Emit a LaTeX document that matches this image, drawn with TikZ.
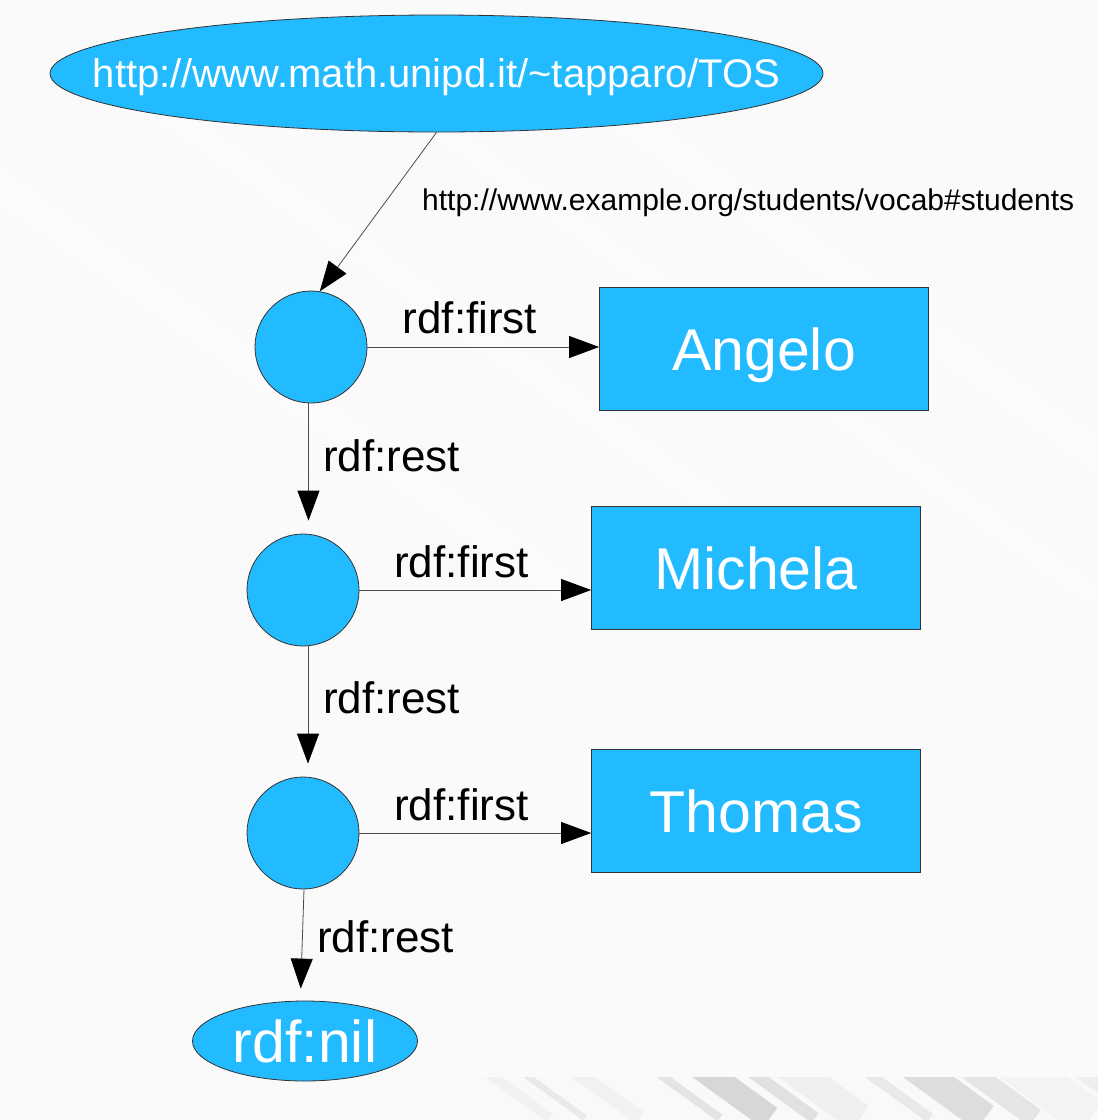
\documentclass[tikz,border=0pt]{standalone}
\usepackage{fontspec}
\setmainfont{Liberation Sans}
\usetikzlibrary{arrows.meta,shapes.geometric}
\definecolor{nodeblue}{HTML}{22BBFF}
\definecolor{edgegray}{HTML}{333333}
\definecolor{bggray}{HTML}{FAFAFA}
\begin{document}
\begin{tikzpicture}[x=1pt,y=-1pt,
  bluefill/.style={fill=nodeblue, draw=edgegray, line width=0.8pt, text=white, inner sep=0pt},
  blank/.style={circle, bluefill, minimum size=112pt},
  namebox/.style={rectangle, bluefill, minimum width=329pt, minimum height=123pt,
    font=\fontsize{59}{70}\selectfont, text height=42.2pt, text depth=0pt},
  conn/.style={draw=black!70, line width=0.8pt, -{Triangle[length=30pt,width=22pt,black]}},
  lbl/.style={anchor=base west, inner sep=0pt, font=\fontsize{44}{52}\selectfont}
]
% background
\fill[bggray] (0,0) rectangle (1098,1120);
\useasboundingbox (0,0) rectangle (1098,1120);
\begin{scope}
  \foreach \x/\w/\c in {-300/30/4, -200/18/5, -120/40/3, 0/25/4, 150/35/3, 400/30/3, 600/40/3}
    \draw[line width=\w pt, gray!\c] (\x,100) -- ++(700,500);
\end{scope}
\begin{scope}
  \clip (440,1077) rectangle (1098,1120);
  \fill[gray!5] (440,1077) rectangle (1098,1120);
  \foreach \x/\w/\c in {470/10/12, 505/6/20, 560/14/12, 640/8/25, 690/25/38, 735/12/28, 780/30/14, 850/10/20, 905/30/32, 955/20/24, 1010/40/10, 1065/15/15}
    \draw[line width=\w pt, gray!\c, opacity=0.8] (\x,1060) -- ++(80,58);
\end{scope}

% nodes
\node[ellipse, bluefill, minimum width=773pt, minimum height=117pt,
      font=\fontsize{40}{48}\selectfont, text height=28.6pt, text depth=0pt]
  (tos) at (436.5,73.5) {\makebox[0pt]{http://www.math.unipd.it/\textasciitilde tapparo/TOS}};

\node[blank] (c1) at (311,347) {};
\node[blank] (c2) at (303,590) {};
\node[blank] (c3) at (303,833) {};

\node[namebox] (angelo) at (764,349) {Angelo};
\node[namebox] (michela) at (756,568) {Michela};
\node[namebox] (thomas) at (756,811) {Thomas};

\node[ellipse, bluefill, minimum width=225pt, minimum height=80pt,
      font=\fontsize{59}{70}\selectfont, text height=42.2pt, text depth=0pt]
  (nil) at (305,1041) {\makebox[0pt]{rdf:nil}};

% connectors
\draw[conn] (tos.south) -- (c1.81);
\draw[conn] (c1.east) -- (c1.east -| angelo.west);
\draw[conn] (c2.east) -- (c2.east -| michela.west);
\draw[conn] (c3.east) -- (c3.east -| thomas.west);
\draw[conn] ([xshift=-2.5pt]c1.south) -- ([xshift=5.5pt,yshift=13pt]c2.north);
\draw[conn] ([xshift=5pt]c2.south) -- ([xshift=5pt,yshift=13pt]c3.north);
\draw[conn] ([xshift=1pt]c3.south) -- ([xshift=-4.3pt,yshift=12pt]nil.north);

% labels
\node[anchor=base west, inner sep=0pt, font=\fontsize{30}{36}\selectfont] (plabel) at (422,210) {http://www.example.org/students/vocab\#students};
\node[lbl] (f1) at (402.5,333) {rdf:first};
\node[lbl] (f2) at (394,577) {rdf:first};
\node[lbl] (f3) at (394,820) {rdf:first};
\node[lbl] (r1) at (323,471) {rdf:rest};
\node[lbl] (r2) at (323,713) {rdf:rest};
\node[lbl] (r3) at (317,952) {rdf:rest};
\end{tikzpicture}
\end{document}
